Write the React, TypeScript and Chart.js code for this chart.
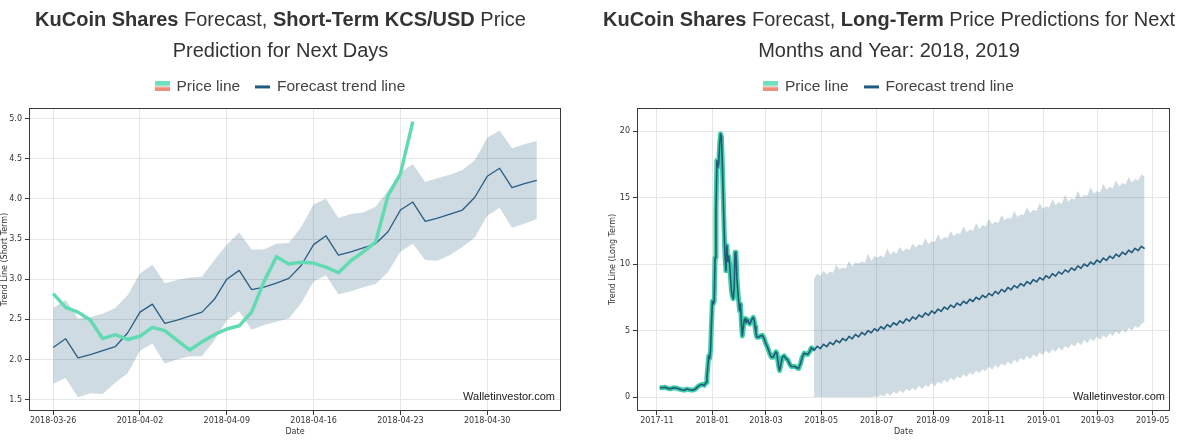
import React, { useEffect, useRef } from 'react';
import { Chart, registerables } from 'chart.js';

Chart.register(...registerables);

// ---------- Short-term chart (x = days since 2018-03-26) ----------
const shortTickDays = [0, 7, 14, 21, 28, 35];
const shortTickLabels = ['2018-03-26', '2018-04-02', '2018-04-09', '2018-04-16', '2018-04-23', '2018-04-30'];
const shortYTicks = [1.5, 2.0, 2.5, 3.0, 3.5, 4.0, 4.5, 5.0];
const shortYLabels = ['1.5', '2.0', '2.5', '3.0', '3.5', '4.0', '4.5', '5.0'];

const shortTrend = [2.15, 2.26, 2.02, 2.06, 2.11, 2.16, 2.33, 2.59, 2.69, 2.45, 2.49, 2.54, 2.59, 2.75, 3.00, 3.11, 2.87, 2.90, 2.95, 3.01, 3.17, 3.43, 3.54, 3.30, 3.34, 3.39, 3.44, 3.59, 3.86, 3.96, 3.72, 3.76, 3.81, 3.86, 4.02, 4.28, 4.38, 4.14, 4.19, 4.23];
const shortUpper = [2.64, 2.74, 2.51, 2.53, 2.57, 2.64, 2.80, 3.07, 3.18, 2.95, 2.99, 3.02, 3.03, 3.24, 3.43, 3.58, 3.37, 3.37, 3.44, 3.45, 3.65, 3.93, 4.00, 3.76, 3.81, 3.83, 3.90, 4.10, 4.33, 4.43, 4.21, 4.26, 4.30, 4.36, 4.48, 4.76, 4.85, 4.63, 4.68, 4.72];
const shortLower = [1.70, 1.77, 1.53, 1.58, 1.57, 1.71, 1.83, 2.11, 2.20, 1.95, 2.00, 2.04, 2.04, 2.24, 2.49, 2.60, 2.37, 2.43, 2.47, 2.51, 2.70, 2.97, 3.05, 2.81, 2.85, 2.90, 2.94, 3.09, 3.34, 3.44, 3.24, 3.23, 3.30, 3.40, 3.52, 3.79, 3.89, 3.64, 3.69, 3.75];
const shortPrice = [2.82, 2.65, 2.59, 2.49, 2.26, 2.31, 2.25, 2.29, 2.40, 2.36, 2.24, 2.12, 2.22, 2.31, 2.38, 2.42, 2.59, 2.97, 3.28, 3.19, 3.21, 3.20, 3.15, 3.08, 3.23, 3.34, 3.46, 4.04, 4.31, 4.96];

// ---------- Long-term chart (x = days since 2017-11-01) ----------
const longTickDays = [0, 61, 120, 181, 242, 304, 365, 426, 485, 546];
const longTickLabels = ['2017-11', '2018-01', '2018-03', '2018-05', '2018-07', '2018-09', '2018-11', '2019-01', '2019-03', '2019-05'];
const longYTicks = [0, 5, 10, 15, 20];
const longYLabels = ['0', '5', '10', '15', '20'];

const longHistDays = [3, 6, 9, 12, 15, 18, 21, 24, 27, 30, 33, 36, 39, 42, 45, 48, 50, 52, 54, 55, 56, 57, 58, 59, 60, 61, 62, 63, 64, 65, 66, 67, 68, 69, 70, 71, 72, 73, 74, 75, 76, 77, 78, 79, 80, 81, 82, 83, 84, 85, 86, 87, 88, 89, 90, 91, 92, 93, 94, 95, 96, 97, 98, 99, 100, 101, 102, 103, 104, 105, 106, 107, 108, 109, 110, 112, 114, 116, 118, 120, 122, 124, 126, 128, 130, 131, 132, 133, 134, 135, 136, 138, 140, 142, 144, 146, 148, 150, 152, 154, 156, 158, 160, 162, 164, 166, 168, 170, 172, 173];
const longHistPrice = [0.72, 0.70, 0.74, 0.65, 0.62, 0.70, 0.68, 0.62, 0.55, 0.52, 0.60, 0.55, 0.52, 0.58, 0.78, 0.92, 0.95, 0.88, 1.10, 1.50, 2.30, 3.10, 2.90, 3.50, 5.50, 7.20, 7.00, 7.20, 10.5, 14.0, 17.8, 17.3, 17.6, 19.0, 19.8, 19.6, 17.5, 15.0, 12.5, 10.5, 9.5, 11.4, 10.2, 10.6, 10.0, 9.0, 8.0, 7.6, 7.4, 8.2, 10.9, 10.8, 9.0, 8.0, 7.2, 6.5, 7.0, 5.5, 4.6, 5.2, 5.8, 5.9, 5.6, 5.7, 5.8, 5.6, 5.5, 5.6, 5.8, 5.9, 6.0, 5.8, 5.3, 4.8, 4.5, 4.5, 4.6, 4.65, 4.4, 4.0, 3.7, 3.3, 3.0, 3.0, 3.3, 3.4, 3.3, 2.8, 2.3, 2.0, 2.3, 3.0, 3.1, 2.9, 2.8, 2.5, 2.3, 2.3, 2.3, 2.2, 2.15, 2.5, 3.0, 3.3, 3.25, 3.2, 3.4, 3.7, 3.6, 3.55];

// forecast samples every half week starting 2018-04-22 (day 173)
const longForecastStartDay = 173;
const longForecastStepDays = 3.5;
const longTrend = [3.50, 3.82, 3.65, 3.97, 3.79, 4.12, 3.94, 4.27, 4.09, 4.41, 4.24, 4.56, 4.38, 4.71, 4.53, 4.86, 4.68, 5.00, 4.83, 5.15, 4.97, 5.30, 5.12, 5.45, 5.27, 5.59, 5.42, 5.74, 5.56, 5.89, 5.71, 6.03, 5.86, 6.18, 6.01, 6.33, 6.15, 6.48, 6.30, 6.62, 6.45, 6.77, 6.60, 6.92, 6.74, 7.07, 6.89, 7.21, 7.04, 7.36, 7.19, 7.51, 7.33, 7.66, 7.48, 7.80, 7.63, 7.95, 7.77, 8.10, 7.92, 8.25, 8.07, 8.39, 8.22, 8.54, 8.36, 8.69, 8.51, 8.84, 8.66, 8.98, 8.81, 9.13, 8.95, 9.28, 9.10, 9.42, 9.25, 9.57, 9.40, 9.72, 9.54, 9.87, 9.69, 10.01, 9.84, 10.16, 9.98, 10.31, 10.13, 10.46, 10.28, 10.60, 10.43, 10.75, 10.57, 10.90, 10.72, 11.05, 10.87, 11.19, 11.02, 11.34, 11.16];
const longUpper = [8.9, 9.3, 9.1, 9.5, 9.2, 9.45, 9.35, 9.95, 9.6, 9.75, 9.65, 10.25, 9.8, 10.15, 10.05, 10.2, 10.1, 10.8, 10.25, 10.6, 10.5, 10.65, 10.5, 11.2, 10.7, 10.95, 10.8, 11.3, 10.95, 11.2, 11.05, 11.55, 11.25, 11.5, 11.4, 11.95, 11.5, 11.75, 11.65, 12.25, 11.8, 12.05, 11.95, 12.5, 12.1, 12.35, 12.25, 12.85, 12.4, 12.6, 12.5, 13.1, 12.65, 12.95, 12.85, 13.4, 13.0, 13.2, 13.1, 13.7, 13.3, 13.5, 13.4, 14.0, 13.55, 13.75, 13.7, 14.3, 13.85, 14.1, 14.0, 14.6, 14.15, 14.35, 14.25, 14.9, 14.45, 14.65, 14.55, 15.2, 14.7, 14.95, 14.85, 15.5, 15.0, 15.2, 15.15, 15.8, 15.3, 15.5, 15.4, 16.05, 15.6, 15.8, 15.7, 16.3, 15.85, 16.1, 16.0, 16.55, 16.15, 16.4, 16.3, 16.75, 16.6];
const longLower = [0, 0, 0, 0, 0, 0, 0, 0, 0, 0, 0, 0, 0, 0, 0, 0, 0, 0, 0, 0.05, 0, 0.15, 0.05, 0.3, 0.1, 0.4, 0.25, 0.5, 0.3, 0.6, 0.45, 0.7, 0.5, 0.85, 0.6, 0.9, 0.75, 1.05, 0.8, 1.15, 1.0, 1.3, 1.1, 1.45, 1.25, 1.55, 1.4, 1.7, 1.5, 1.85, 1.65, 2.0, 1.8, 2.1, 1.95, 2.3, 2.05, 2.4, 2.2, 2.55, 2.35, 2.7, 2.45, 2.8, 2.6, 2.95, 2.75, 3.1, 2.85, 3.2, 3.0, 3.35, 3.15, 3.5, 3.25, 3.6, 3.4, 3.75, 3.5, 3.85, 3.65, 4.0, 3.8, 4.15, 3.9, 4.3, 4.05, 4.4, 4.2, 4.55, 4.3, 4.65, 4.45, 4.8, 4.6, 4.95, 4.7, 5.1, 4.85, 5.2, 5.0, 5.35, 5.2, 5.5, 5.65];

// ---------- Texts ----------
const leftTitleLines = [
  [{ text: 'KuCoin Shares', bold: true }, { text: ' Forecast, ', bold: false }, { text: 'Short-Term KCS/USD', bold: true }, { text: ' Price', bold: false }],
  [{ text: 'Prediction for Next Days', bold: false }],
];
const rightTitleLines = [
  [{ text: 'KuCoin Shares', bold: true }, { text: ' Forecast, ', bold: false }, { text: 'Long-Term', bold: true }, { text: ' Price Predictions for Next', bold: false }],
  [{ text: 'Months and Year: 2018, 2019', bold: false }],
];
const legendNames = ['Price line', 'Forecast trend line'];
const watermarkText = 'Walletinvestor.com';

// ---------- Styles ----------
const FONT_SANS = '"Liberation Sans", Arial, Helvetica, sans-serif';
const FONT_TICK = '"DejaVu Sans", Verdana, sans-serif';
const BAND = 'rgba(32, 90, 125, 0.22)';
const GRID = '#e6e6e6';
const AXIS_TEXT = '#333333';

const richTitlePlugin = {
  id: 'richTitle',
  afterDraw(chart: any, _a: any, opts: any) {
    const { ctx } = chart;
    const lg = chart.legend;
    const cx = (lg.left + lg.right) / 2;
    ctx.save();
    ctx.fillStyle = opts.color;
    ctx.textBaseline = 'alphabetic';
    ctx.textAlign = 'left';
    const f = (b: boolean) => `${b ? 'bold ' : ''}${opts.size}px ${FONT_SANS}`;
    opts.lines.forEach((segs: any[], li: number) => {
      const y = opts.baselines[li];
      const widths = segs.map((s) => { ctx.font = f(s.bold); return ctx.measureText(s.text).width; });
      const total = widths.reduce((a: number, b: number) => a + b, 0);
      let x = cx - total / 2;
      segs.forEach((s, i) => { ctx.font = f(s.bold); ctx.fillText(s.text, x, y); x += widths[i]; });
    });
    ctx.restore();
  },
};

const framePlugin = {
  id: 'frame',
  afterDatasetsDraw(chart: any, _a: any, opts: any) {
    const { ctx, chartArea: a } = chart;
    ctx.save();
    ctx.strokeStyle = '#3a3a3a';
    ctx.lineWidth = 1;
    ctx.strokeRect(a.left + 0.5, a.top + 0.5, a.right - a.left - 1, a.bottom - a.top - 1);
    ctx.font = `11px ${FONT_SANS}`;
    ctx.fillStyle = '#222';
    ctx.textAlign = 'right';
    ctx.textBaseline = 'alphabetic';
    ctx.fillText(opts.text, a.right - opts.dx, a.bottom - opts.dy);
    ctx.restore();
  },
};

function makeSwatch(kind: 'price' | 'trend') {
  const c = document.createElement('canvas');
  c.width = 15; c.height = 10;
  const g = c.getContext('2d')!;
  if (kind === 'price') {
    g.fillStyle = '#6ee0bb'; g.fillRect(0, 0, 15, 4.5);
    g.fillStyle = '#f38c79'; g.fillRect(0, 5.5, 15, 4.5);
  } else {
    g.fillStyle = '#1f5a80'; g.fillRect(0, 4, 15, 3);
  }
  return c;
}

function buildOptions(p: any) {
  const tickFont = { family: FONT_TICK, size: 8 };
  return {
    responsive: false,
    animation: false,
    events: [],
    layout: { padding: { top: 62.65, right: p.padRight, bottom: 0, left: p.padLeft } },
    plugins: {
      tooltip: { enabled: false },
      title: { display: false },
      subtitle: { display: true, text: '', weight: 500, padding: 0, font: { size: 3.85, lineHeight: 1 } },
      legend: {
        display: true,
        position: 'top',
        align: 'center',
        labels: {
          usePointStyle: true,
          pointStyleWidth: 13,
          padding: 16,
          color: '#444',
          font: { family: FONT_SANS, size: 15.5 },
          generateLabels: () => [
            { text: legendNames[0], pointStyle: p.swatches[0], fillStyle: 'rgba(0,0,0,0)', strokeStyle: 'rgba(0,0,0,0)', lineWidth: 0, hidden: false, datasetIndex: 0, fontColor: '#444' },
            { text: legendNames[1], pointStyle: p.swatches[1], fillStyle: 'rgba(0,0,0,0)', strokeStyle: 'rgba(0,0,0,0)', lineWidth: 0, hidden: false, datasetIndex: 1, fontColor: '#444' },
          ],
        },
      },
      richTitle: { lines: p.titleLines, baselines: [25.5, 56.5], size: 20, color: '#333' },
      frame: { text: watermarkText, dx: p.wmDx, dy: 11 },
    },
    scales: {
      x: {
        type: 'linear',
        bounds: 'data',
        min: p.xMin,
        max: p.xMax,
        afterBuildTicks: (s: any) => { s.ticks = p.xTicks.map((v: number) => ({ value: v })); },
        afterFit: (s: any) => { s.height = 31; },
        ticks: { callback: (_v: any, i: number) => p.xLabels[i], font: tickFont, color: AXIS_TEXT, padding: 1, maxRotation: 0, autoSkip: false },
        grid: { color: GRID, lineWidth: 1, tickColor: '#3a3a3a', tickLength: 4, tickWidth: 1 },
        border: { display: false },
        title: { display: true, text: 'Date', color: AXIS_TEXT, font: { family: FONT_TICK, size: 8, lineHeight: 1 }, padding: { top: 0, bottom: 6.5 } },
      },
      y: {
        type: 'linear',
        bounds: 'data',
        min: p.yMin,
        max: p.yMax,
        afterBuildTicks: (s: any) => { s.ticks = p.yTicks.map((v: number) => ({ value: v })); },
        afterFit: (s: any) => { s.width = 29; },
        ticks: { callback: (_v: any, i: number) => p.yLabels[i], font: tickFont, color: AXIS_TEXT, padding: 3, autoSkip: false },
        grid: { color: GRID, lineWidth: 1, tickColor: '#3a3a3a', tickLength: 4, tickWidth: 1 },
        border: { display: false },
        title: { display: true, text: p.yTitle, color: AXIS_TEXT, font: { family: FONT_TICK, size: 8, lineHeight: 1 }, padding: { top: 1, bottom: 0 } },
      },
    },
  };
}

const lineBase = { pointRadius: 0, tension: 0, borderJoinStyle: 'round', fill: false };

export default function App() {
  const leftRef = useRef<HTMLCanvasElement>(null);
  const rightRef = useRef<HTMLCanvasElement>(null);

  useEffect(() => {
    const swatches = [makeSwatch('price'), makeSwatch('trend')];

    const sPts = (arr: number[]) => arr.map((v, i) => ({ x: i, y: v }));
    const left = new Chart(leftRef.current!, {
      type: 'line',
      data: {
        datasets: [
          { ...lineBase, label: legendNames[0], data: sPts(shortPrice), borderColor: '#62dab2', borderWidth: 3.5, order: 0 },
          { ...lineBase, label: legendNames[1], data: sPts(shortTrend), borderColor: '#2b5e84', borderWidth: 1.3, order: 1 },
          { ...lineBase, label: 'upper', data: sPts(shortUpper), borderWidth: 0, borderColor: 'rgba(0,0,0,0)', backgroundColor: BAND, fill: '+1', order: 2 },
          { ...lineBase, label: 'lower', data: sPts(shortLower), borderWidth: 0, borderColor: 'rgba(0,0,0,0)', order: 3 },
        ],
      } as any,
      options: buildOptions({
        padLeft: 0, padRight: 39, xMin: -1.95, xMax: 40.95, xTicks: shortTickDays, xLabels: shortTickLabels,
        yMin: 1.36, yMax: 5.13, yTicks: shortYTicks, yLabels: shortYLabels, yTitle: 'Trend Line (Short Term)',
        titleLines: leftTitleLines, swatches, wmDx: 6,
      }) as any,
      plugins: [richTitlePlugin, framePlugin],
    });

    const fX = (i: number) => longForecastStartDay + i * longForecastStepDays;
    const histPts = longHistDays.map((d, i) => ({ x: d, y: longHistPrice[i] }));
    const fPts = (arr: number[]) => arr.map((v, i) => ({ x: fX(i), y: v }));
    const right = new Chart(rightRef.current!, {
      type: 'line',
      data: {
        datasets: [
          { ...lineBase, label: legendNames[1], data: [...histPts, ...fPts(longTrend)], borderColor: '#215a7a', borderWidth: 1.6, order: 0 },
          { ...lineBase, label: legendNames[0], data: histPts, borderColor: '#3fcfa6', borderWidth: 5, order: 1 },
          { ...lineBase, label: 'upper', data: fPts(longUpper), borderWidth: 0, borderColor: 'rgba(0,0,0,0)', backgroundColor: BAND, fill: '+1', order: 2 },
          { ...lineBase, label: 'lower', data: fPts(longLower), borderWidth: 0, borderColor: 'rgba(0,0,0,0)', order: 3 },
        ],
      } as any,
      options: buildOptions({
        padLeft: 10, padRight: 29, xMin: -22, xMax: 565, xTicks: longTickDays, xLabels: longTickLabels,
        yMin: -1.05, yMax: 21.75, yTicks: longYTicks, yLabels: longYLabels, yTitle: 'Trend Line (Long Term)',
        titleLines: rightTitleLines, swatches, wmDx: 5,
      }) as any,
      plugins: [richTitlePlugin, framePlugin],
    });

    return () => { left.destroy(); right.destroy(); };
  }, []);

  return (
    <div style={{ position: 'absolute', left: 0, top: 0, width: 1199, height: 442, background: '#fff', overflow: 'hidden' }}>
      <canvas ref={leftRef} width={600} height={442} style={{ position: 'absolute', left: 0, top: 0, width: 600, height: 442 }} />
      <canvas ref={rightRef} width={601} height={442} style={{ position: 'absolute', left: 598, top: 0, width: 601, height: 442 }} />
    </div>
  );
}
